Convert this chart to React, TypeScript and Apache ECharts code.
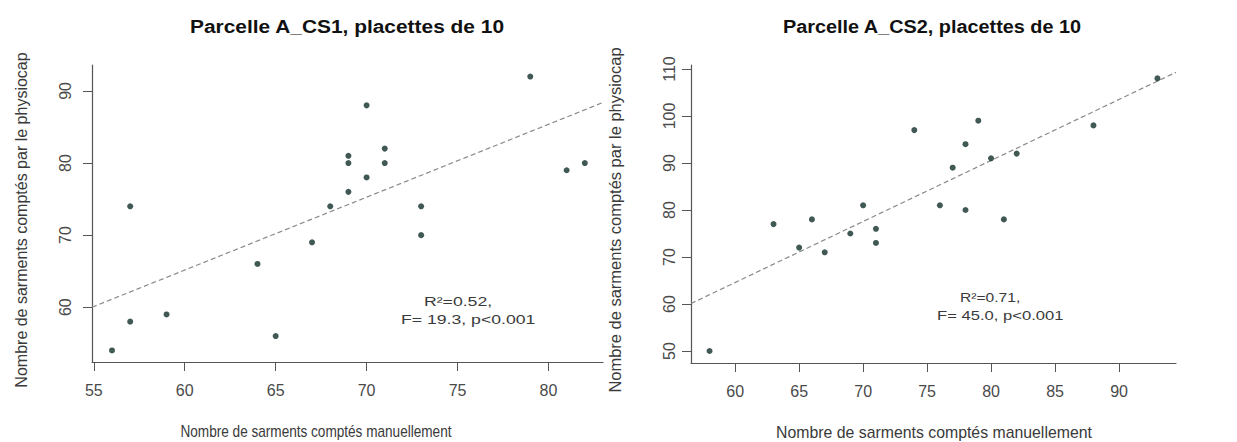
import React, { useEffect, useRef } from "react";
import * as echarts from "echarts";

// Left panel: Parcelle A_CS1
const xL = [56, 57, 57, 59, 64, 65, 67, 68, 69, 69, 69, 70, 70, 71, 71, 73, 73, 79, 81, 82];
const yL = [54, 74, 58, 59, 66, 56, 69, 74, 76, 80, 81, 88, 78, 82, 80, 74, 70, 92, 79, 80];
// Right panel: Parcelle A_CS2
const xR = [58, 63, 65, 66, 67, 69, 70, 71, 71, 74, 76, 77, 78, 78, 79, 80, 81, 82, 88, 93];
const yR = [50, 77, 72, 78, 71, 75, 81, 76, 73, 97, 81, 89, 94, 80, 99, 91, 78, 92, 98, 108];

const xTicksL = [55, 60, 65, 70, 75, 80];
const yTicksL = [60, 70, 80, 90];
const xTicksR = [60, 65, 70, 75, 80, 85, 90];
const yTicksR = [50, 60, 70, 80, 90, 100, 110];

// regression lines (end points)
const fitL = [[54.9, 60.0], [83.0, 88.4]];
const fitR = [[56.55, 60.1], [94.45, 109.3]];

const titles = ["Parcelle A_CS1, placettes de 10", "Parcelle A_CS2, placettes de 10"];
const xTitle = "Nombre de sarments comptés manuellement";
const yTitle = "Nombre de sarments comptés par le physiocap";
const statsL = ["R²=0.52,", "F= 19.3, p<0.001"];
const statsR = ["R²=0.71,", "F= 45.0, p<0.001"];

const FONT = "Liberation Sans, Arial, sans-serif";
const AXIS = "#555";
const LABEL = "#4a4a4a";
const POINT = "#10302a";

function zip(a: number[], b: number[]) {
  return a.map((v, i) => [v, b[i]]);
}

function txt(text: string, x: number, y: number, opts: any = {}) {
  return {
    type: "text",
    x,
    y,
    rotation: opts.rotation || 0,
    scaleX: opts.scaleX || 1,
    scaleY: 1,
    silent: true,
    style: {
      text,
      fontSize: opts.fontSize || 13,
      fontWeight: opts.fontWeight || "normal",
      fontFamily: FONT,
      fill: opts.fill || "#3a3a3a",
      align: opts.align || "center",
      verticalAlign: "middle",
      textAlign: opts.align || "center",
      textVerticalAlign: "middle",
    },
  };
}

function xAxisCfg(gridIndex: number, min: number, max: number, ticks: number[]) {
  return {
    type: "value",
    gridIndex,
    min,
    max,
    axisLine: { show: true, onZero: false, lineStyle: { color: AXIS, width: 1.2 } },
    axisTick: { show: true, customValues: ticks, length: 9, lineStyle: { color: AXIS } },
    axisLabel: { customValues: ticks, margin: 20, fontSize: 16, fontFamily: FONT, color: LABEL },
    splitLine: { show: false },
  };
}

function yAxisCfg(gridIndex: number, min: number, max: number, ticks: number[], margin: number) {
  return {
    type: "value",
    gridIndex,
    min,
    max,
    axisLine: { show: true, onZero: false, lineStyle: { color: AXIS, width: 1.2 } },
    axisTick: { show: true, customValues: ticks, length: 9, lineStyle: { color: AXIS } },
    axisLabel: { customValues: ticks, margin, rotate: 90, fontSize: 16, fontFamily: FONT, color: LABEL },
    splitLine: { show: false },
  };
}

export default function App() {
  const ref = useRef<HTMLDivElement>(null);
  useEffect(() => {
    if (!ref.current) return;
    const chart = echarts.init(ref.current, null, { renderer: "svg" });
    chart.setOption({
      animation: false,
      backgroundColor: "#fff",
      grid: [
        { left: 92, top: 65, width: 511, height: 297 },
        { left: 691, top: 65, width: 485, height: 298 },
      ],
      xAxis: [xAxisCfg(0, 54.9, 83.0, xTicksL), xAxisCfg(1, 56.55, 94.45, xTicksR)],
      yAxis: [yAxisCfg(0, 52.4, 93.6, yTicksL, 19), yAxisCfg(1, 47.45, 110.85, yTicksR, 14)],
      series: [
        {
          type: "line",
          xAxisIndex: 0,
          yAxisIndex: 0,
          data: fitL,
          showSymbol: false,
          lineStyle: { color: "#8a8a8a", width: 1.2, type: [5, 3] },
          z: 1,
        },
        {
          type: "scatter",
          xAxisIndex: 0,
          yAxisIndex: 0,
          data: zip(xL, yL),
          symbolSize: 6,
          itemStyle: { color: POINT },
          z: 2,
        },
        {
          type: "line",
          xAxisIndex: 1,
          yAxisIndex: 1,
          data: fitR,
          showSymbol: false,
          lineStyle: { color: "#8a8a8a", width: 1.2, type: [5, 3] },
          z: 1,
        },
        {
          type: "scatter",
          xAxisIndex: 1,
          yAxisIndex: 1,
          data: zip(xR, yR),
          symbolSize: 6,
          itemStyle: { color: POINT },
          z: 2,
        },
      ],
      graphic: [
        txt(titles[0], 347, 26, { fontSize: 19, fontWeight: "bold", scaleX: 1.1, fill: "#111" }),
        txt(titles[1], 932, 26, { fontSize: 19, fontWeight: "bold", scaleX: 1.045, fill: "#111" }),
        txt(xTitle, 316, 432, { fontSize: 16, scaleX: 0.85 }),
        txt(xTitle, 934, 432, { fontSize: 16, scaleX: 0.99 }),
        txt(yTitle, 21, 220, { fontSize: 16, rotation: Math.PI / 2 }),
        txt(yTitle, 615, 220, { fontSize: 16, rotation: Math.PI / 2, scaleX: 1.03 }),
        txt(statsL[0], 424, 302, { fontSize: 12, scaleX: 1.47, align: "left" }),
        txt(statsL[1], 401, 320, { fontSize: 12, scaleX: 1.47, align: "left" }),
        txt(statsR[0], 960, 298, { fontSize: 12, scaleX: 1.3, align: "left" }),
        txt(statsR[1], 937, 316, { fontSize: 12, scaleX: 1.385, align: "left" }),
      ],
    });
    return () => chart.dispose();
  }, []);
  return (
    <div
      ref={ref}
      style={{ position: "absolute", left: 0, top: 0, width: 1237, height: 442, background: "#fff" }}
    />
  );
}
